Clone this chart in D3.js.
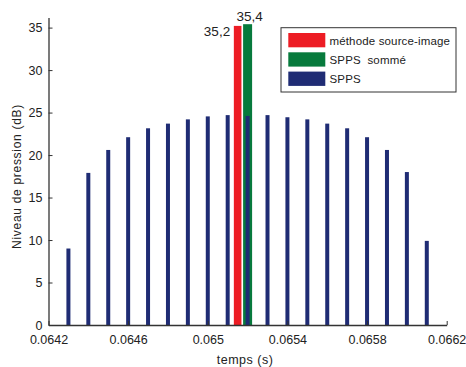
<!DOCTYPE html>
<html><head><meta charset="utf-8">
<script src="https://cdn.jsdelivr.net/npm/d3@7"></script>
<style>body{margin:0;background:#fff;} text{font-family:"Liberation Sans",Arial,sans-serif;}</style>
</head><body><svg id="c" width="466" height="367"></svg>
<script>
const spppsTimes = [0.0643,0.0644,0.0645,0.0646,0.0647,0.0648,0.0649,0.0650,0.0651,0.0652,0.0653,0.0654,0.0655,0.0656,0.0657,0.0658,0.0659,0.0660,0.0661];
const spppsValues = [9.0,17.9,20.6,22.1,23.15,23.7,24.2,24.55,24.7,24.6,24.7,24.45,24.2,23.7,23.15,22.1,20.6,18.0,9.9];
const sourceImage = {time:0.06515, value:35.2, label:"35,2"};
const spppsSum = {time:0.0652, value:35.4, label:"35,4"};
const xTicks = [0.0642,0.0646,0.0650,0.0654,0.0658,0.0662];
const xTickLabels = ["0.0642","0.0646","0.065","0.0654","0.0658","0.0662"];
const yTicks = [0,5,10,15,20,25,30,35];
const legendLabels = ["méthode source-image","SPPS\u00a0\u00a0sommé","SPPS"];
const colors = ["#ed1c24","#077a3c","#1f2c74"];

const svg = d3.select("#c");
const x = d3.scaleLinear().domain([0.0642,0.0662]).range([48.5,446.7]);
const y = d3.scaleLinear().domain([0,36.2]).range([325,17.4]);
const axisCol = "#333";

// bars
svg.append("rect").attr("x",x(sourceImage.time)-3.8).attr("width",7.6)
  .attr("y",y(sourceImage.value)).attr("height",y(0)-y(sourceImage.value)).attr("fill",colors[0]);
svg.append("rect").attr("x",x(spppsSum.time)-4.5).attr("width",9)
  .attr("y",y(spppsSum.value)).attr("height",y(0)-y(spppsSum.value)).attr("fill",colors[1]);
svg.selectAll("rect.b").data(spppsTimes).enter().append("rect").attr("class","b")
  .attr("x",d=>x(d)-2).attr("width",4)
  .attr("y",(d,i)=>y(spppsValues[i])).attr("height",(d,i)=>y(0)-y(spppsValues[i]))
  .attr("fill",colors[2]);

// axes
const xa = svg.append("g").attr("transform",`translate(0,${y(0)})`)
  .call(d3.axisBottom(x).tickValues(xTicks).tickFormat((d,i)=>xTickLabels[i]).tickSizeInner(-4).tickSizeOuter(0).tickPadding(10));
const ya = svg.append("g").attr("transform",`translate(${x.range()[0]},0)`)
  .call(d3.axisLeft(y).tickValues(yTicks).tickSizeInner(-4).tickSizeOuter(0).tickPadding(6));
[xa,ya].forEach(a=>{
  a.select(".domain").attr("stroke",axisCol).attr("stroke-width",1.3);
  a.selectAll(".tick line").attr("stroke",axisCol);
  a.selectAll(".tick text").attr("fill","#222").style("font-size","12.5px").style("font-family","Liberation Sans, Arial, sans-serif");
});

// axis labels
svg.append("text").attr("x",245).attr("y",364).attr("text-anchor","middle")
  .style("font-size","12.5px").style("letter-spacing","0.5px").attr("fill","#222").text("temps (s)");
svg.append("text").attr("transform","translate(21,176.5) rotate(-90)").attr("text-anchor","middle")
  .style("font-size","12px").style("letter-spacing","0.7px").attr("fill","#222").text("Niveau de pression (dB)");

// value annotations
svg.append("text").attr("x",x(sourceImage.time)-7.5).attr("y",36).attr("text-anchor","end")
  .style("font-size","13.5px").attr("fill","#222").text(sourceImage.label);
svg.append("text").attr("x",x(spppsSum.time)+2).attr("y",20.5).attr("text-anchor","middle")
  .style("font-size","13.5px").attr("fill","#222").text(spppsSum.label);

// legend
const lg = svg.append("g");
lg.append("rect").attr("x",281).attr("y",27.7).attr("width",175).attr("height",64.3)
  .attr("fill","#fff").attr("stroke",axisCol).attr("stroke-width",1);
legendLabels.forEach((t,i)=>{
  const yy = 33 + i*19.3;
  lg.append("rect").attr("x",288.3).attr("y",yy).attr("width",37).attr("height",14.3).attr("fill",colors[i]);
  lg.append("text").attr("x",329.5).attr("y",yy+11.5).style("font-size","11.5px").style("letter-spacing","0.15px").attr("fill","#222").text(t);
});
</script></body></html>
